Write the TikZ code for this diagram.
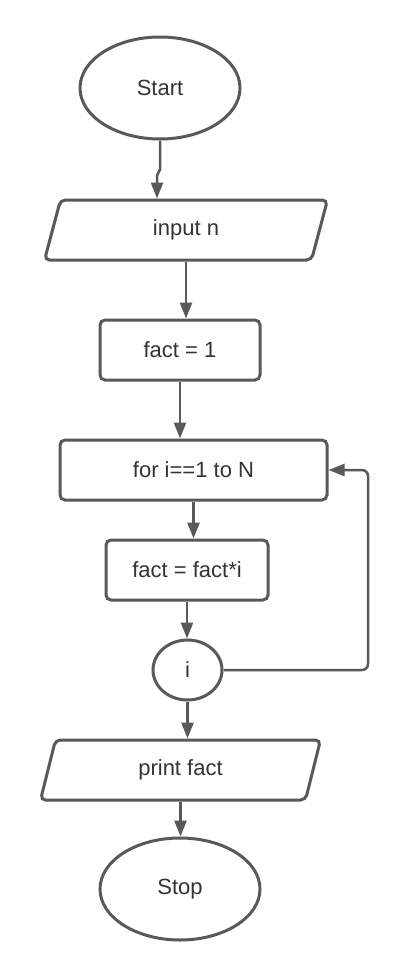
\documentclass[tikz,border=0pt]{standalone}
\usepackage{fontspec}
\setmainfont{Liberation Sans}
\usetikzlibrary{shapes.geometric,arrows.meta,calc}
\definecolor{ln}{HTML}{595959}
\definecolor{tx}{HTML}{333333}
\begin{document}
\begin{tikzpicture}[x=1pt,y=-1pt,
  every node/.style={font=\fontsize{22}{26}\selectfont, text=tx},
  shapeline/.style={draw=ln, line width=3pt},
  term/.style={shapeline, ellipse, minimum width=160pt, minimum height=102pt, inner sep=0pt},
  proc/.style={shapeline, rectangle, rounded corners=5pt, inner sep=0pt, minimum height=60pt},
  io/.style={rectangle, inner sep=0pt, minimum height=60pt, outer sep=1.5pt},
  ioline/.style={draw=ln, line width=3pt, rounded corners=5pt},
  conn/.style={draw=ln, line width=2.5pt, -{Triangle[length=16pt,width=12pt]}}
]
\fill[white] (0,0) rectangle (408,980);
\useasboundingbox (0,0) rectangle (408,980);

\node[term] (start) at (160,88) {Start};
\node[io, minimum width=264pt] (in) at (186,230) {input n};
\draw[ioline] ($(in.north west)+(8,1.5)$) -- ($(in.north east)+(8,1.5)$) -- ($(in.south east)+(-8,-1.5)$) -- ($(in.south west)+(-8,-1.5)$) -- cycle;
\node[proc, minimum width=160pt] (f1) at (180,350) {fact = 1};
\node[proc, minimum width=267pt] (for) at (193.5,470) {for i==1 to N};
\node[proc, minimum width=162pt] (ff) at (187,570) {fact = fact*i};
\node[shapeline, ellipse, minimum width=69pt, minimum height=60pt, inner sep=0pt] (i) at (187.5,670) {i};
\node[io, minimum width=262pt] (pf) at (180.5,770) {print fact};
\draw[ioline] ($(pf.north west)+(7.5,1.5)$) -- ($(pf.north east)+(7.5,1.5)$) -- ($(pf.south east)+(-7.5,-1.5)$) -- ($(pf.south west)+(-7.5,-1.5)$) -- cycle;
\node[term] (stop) at (180,889) {Stop};

\coordinate (j) at ($(start.south)+(-3,35)$);
\draw[conn] (start.south) -- ++(0,29) -- (j) -- (j |- in.north);
\draw[conn] (in.south) -- (in.south |- f1.north);
\draw[conn] (f1.south) -- (f1.south |- for.north);
\draw[conn] (for.south) -- (for.south |- ff.north);
\draw[conn] (ff.south) -- (ff.south |- i.north);
\coordinate (lp) at (368,470);
\draw[conn, rounded corners=6pt] (i.east) -| (lp) -- (for.east);
\draw[conn] (i.south) -- (i.south |- pf.north);
\draw[conn] (pf.south) -- (pf.south |- stop.north);
\end{tikzpicture}
\end{document}
